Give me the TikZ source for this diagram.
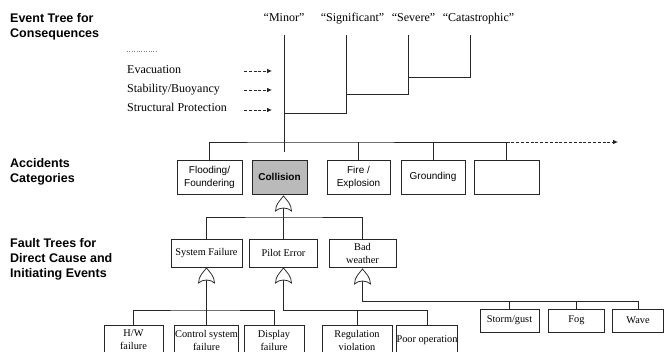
\documentclass[tikz,border=0pt]{standalone}
\usepackage{fontspec}
\setmainfont{Liberation Serif}
\setsansfont{Liberation Sans}
\usetikzlibrary{arrows.meta}

\begin{document}
\begin{tikzpicture}[x=1pt,y=-1pt,
  ln/.style={line width=0.75pt,draw=black!85},
  hdr/.style={font=\sffamily\bfseries\fontsize{12.5}{15}\selectfont,align=left,anchor=north west,inner sep=0pt},
  sev/.style={font=\fontsize{12}{14}\selectfont,anchor=base,inner sep=0pt},
  barrier/.style={font=\fontsize{12}{14}\selectfont,anchor=base west,inner sep=0pt},
  catbox/.style={ln,font=\sffamily\fontsize{10}{12.5}\selectfont,align=center,inner sep=0pt,minimum height=33.5pt},
  evbox/.style={ln,font=\fontsize{10.3}{13}\selectfont,align=center,inner sep=0pt},
  barrow/.style={ln,dash pattern=on 3pt off 1.8pt,-{Latex[length=5pt,width=4.6pt]}},
  pics/orgate/.style={code={
    \draw[ln,fill=white] (0,0) .. controls (-3,4) and (-8,8) .. (-8,15)
      .. controls (-4,11) and (4,11) .. (8,15)
      .. controls (8,8) and (3,4) .. (0,0) -- cycle;}}
]
\useasboundingbox (0,0) rectangle (664,352);

% ---- row headings
\node[hdr] (hdrevent) at (10,13.3) {Event Tree for\\Consequences};
\node[hdr] (hdracc) at (10,158.3) {Accidents\\Categories};
\node[hdr] (hdrfault) at (10,238.3) {Fault Trees for\\Direct Cause and\\Initiating Events};

% ---- consequence classes
\node[sev] (minor)  at (284,22)   {“Minor”};
\node[sev] (signif) at (352.5,22) {“Significant”};
\node[sev] (severe) at (413.5,22) {“Severe”};
\node[sev] (catas)  at (478.5,22) {“Catastrophic”};

\coordinate (tminor) at (284,35);
\coordinate (tsig)   at (346,35);
\coordinate (tsev)   at (408,35);
\coordinate (tcat)   at (470,35);
\coordinate (jsig)   at (284,113);
\coordinate (jsev)   at (346,94);
\coordinate (jcat)   at (408,77);
\coordinate (mend)   at (284,152);
\draw[ln] (tminor) -- (mend);
\draw[ln] (jsig) -| (tsig);
\draw[ln] (jsev) -| (tsev);
\draw[ln] (jcat) -| (tcat);

% ---- safety barriers
\coordinate (dotA) at (127,51);
\coordinate (dotB) at (158,51);
\draw[black!50,line width=0.7pt,dash pattern=on 0.9pt off 1.5pt] (dotA) -- (dotB);
\node[barrier] (evac)   at (127,74)  {Evacuation};
\node[barrier] (stab)   at (127,93)  {Stability/Buoyancy};
\node[barrier] (struct) at (127,112) {Structural Protection};
\coordinate (evacA) at (244,71);   \coordinate (evacB) at (272,71);
\coordinate (stabA) at (244,90);   \coordinate (stabB) at (272,90);
\coordinate (strA)  at (244,110);  \coordinate (strB)  at (272,110);
\draw[barrow] (evacA) -- (evacB);
\draw[barrow] (stabA) -- (stabB);
\draw[barrow] (strA) -- (strB);

% ---- accident categories
\node[catbox,minimum width=65pt] (flood) at (209.5,177.3) {Flooding/\\Foundering};
\node[catbox,minimum width=55pt,fill=black!27,font=\sffamily\bfseries\fontsize{10}{12.5}\selectfont] (coll) at (279.5,177.3) {Collision};
\node[catbox,minimum width=63pt] (fire) at (358.5,177.3) {Fire /\\Explosion};
\node[catbox,minimum width=64pt] (ground) at (433,177.3) {Grounding};
\node[catbox,minimum width=65pt] (empty) at (506.5,177.3) {};

\coordinate (accbus) at (284,142);
\coordinate (accmore) at (618,142);
\draw[ln] (flood.north) |- (accbus) -| (empty.north);
\draw[ln] (fire.north) -- (fire.north |- accbus);
\draw[ln] (ground.north) -- (ground.north |- accbus);
\draw[barrow] (empty.north |- accbus) -- (accmore);

% ---- direct causes
\node[evbox,minimum width=71pt,minimum height=28pt] (sysf)  at (206.5,253) {System Failure};
\node[evbox,minimum width=68pt,minimum height=28pt] (pilot) at (283.5,253) {Pilot Error};
\node[evbox,minimum width=67pt,minimum height=28pt] (badw)  at (362.5,253) {Bad\\weather};

\coordinate (gcoll)   at (283.5,196);
\coordinate (gcollin) at (283.5,208);
\coordinate (fbus)    at (283.5,217);
\draw[ln] (gcollin) -- (pilot.north);
\draw[ln] (sysf.north) |- (fbus) -| (badw.north);

% ---- initiating events
\node[evbox,minimum width=59pt,minimum height=30pt] (hw)   at (133.5,340) {H/W\\failure};
\node[evbox,minimum width=64pt,minimum height=30pt] (ctrl) at (206.5,340) {Control system\\failure};
\node[evbox,minimum width=60pt,minimum height=30pt] (disp) at (274,340)   {Display\\failure};
\node[evbox,minimum width=70pt,minimum height=30pt] (reg)  at (357,340)   {Regulation\\violation};
\node[evbox,minimum width=58pt,minimum height=30pt] (poor) at (427,340)   {Poor operation};
\node[evbox,minimum width=59pt,minimum height=23pt] (storm) at (509.5,320.5) {Storm/gust};
\node[evbox,minimum width=56pt,minimum height=23pt] (fog)   at (576.5,320.5) {Fog};
\node[evbox,minimum width=51pt,minimum height=23pt] (wave)  at (638,320.5)   {Wave};

\coordinate (gsys)   at (206.5,268);
\coordinate (gsysin) at (206.5,280);
\coordinate (sysbus) at (206.5,310);
\draw[ln] (gsysin) -- (ctrl.north);
\draw[ln] (hw.north) |- (sysbus) -| (disp.north);

\coordinate (gpil)   at (283.5,268);
\coordinate (gpilin) at (283.5,280);
\coordinate (pilbus) at (283.5,310);
\draw[ln] (gpilin) -- (pilbus) -| (poor.north);
\draw[ln] (reg.north) -- (reg.north |- pilbus);

\coordinate (gbad)   at (362.5,269);
\coordinate (gbadin) at (362.5,281);
\coordinate (badbus) at (362.5,301);
\draw[ln] (gbadin) -- (badbus) -| (wave.north);
\draw[ln] (storm.north) -- (storm.north |- badbus);
\draw[ln] (fog.north) -- (fog.north |- badbus);

% ---- OR gates
\pic at (gcoll) {orgate};
\pic at (gsys) {orgate};
\pic at (gpil) {orgate};
\pic at (gbad) {orgate};
\end{tikzpicture}
\end{document}
